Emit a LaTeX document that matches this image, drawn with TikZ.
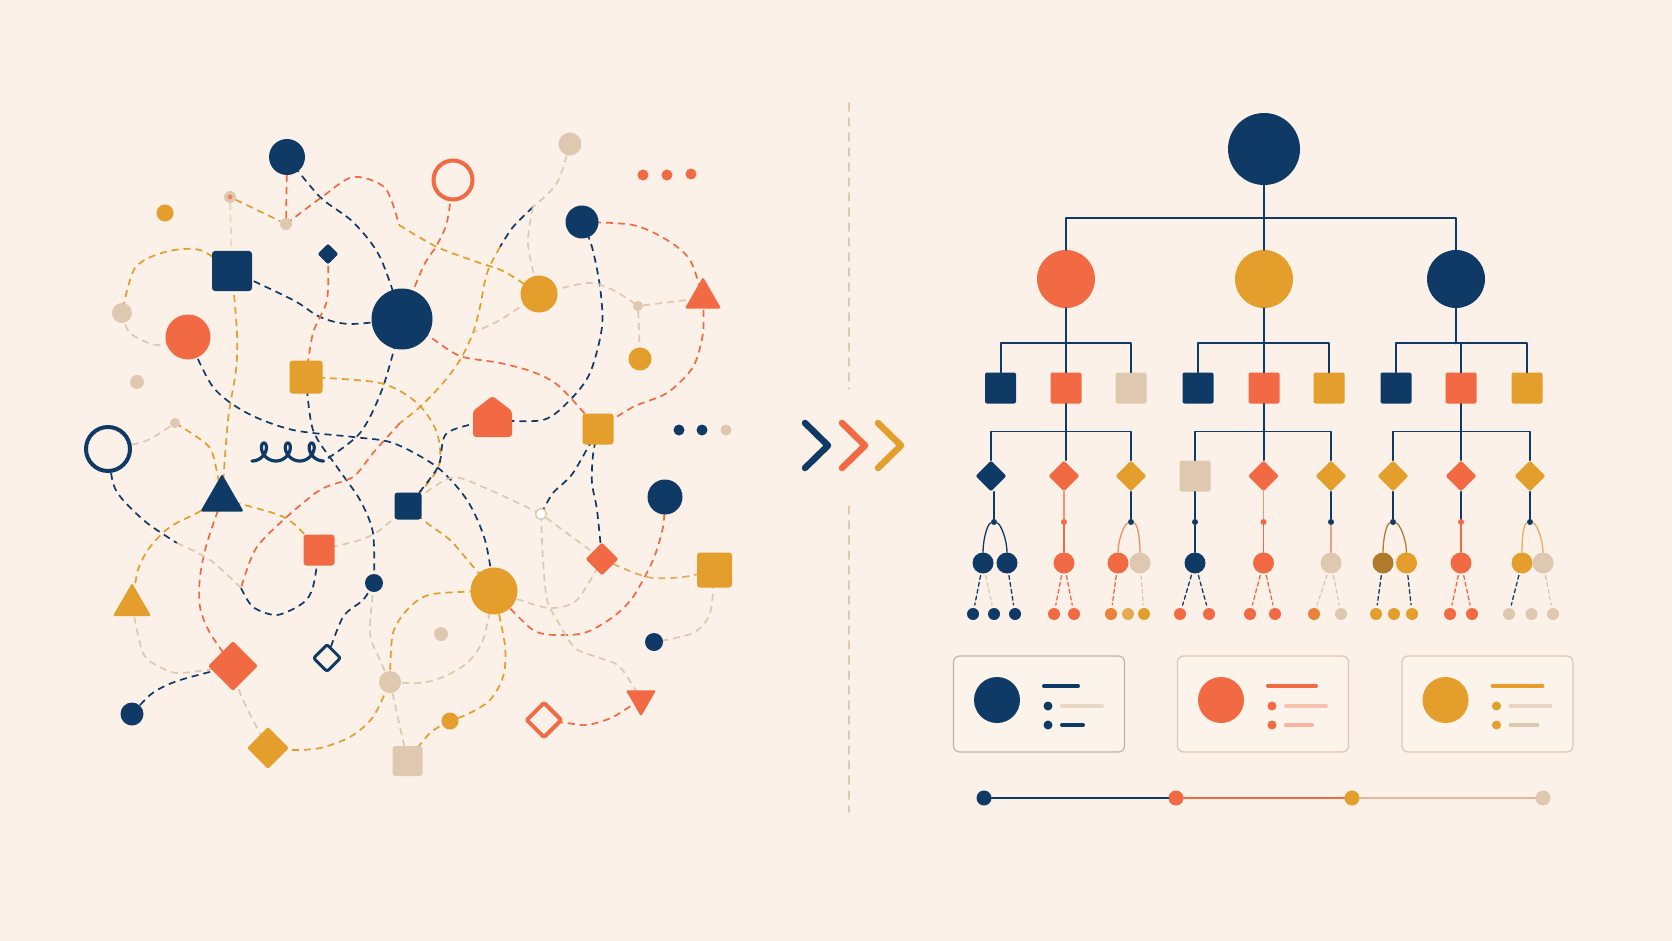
\documentclass[tikz,border=0pt]{standalone}
\usepackage{tikz}
\usetikzlibrary{shapes.geometric}
\definecolor{navy}{HTML}{0F3A65}
\definecolor{coral}{HTML}{F26A43}
\definecolor{amber}{HTML}{E49E2C}
\definecolor{sand}{HTML}{DFC8B0}
\definecolor{paper}{HTML}{FBF1E8}
\definecolor{umber}{HTML}{B07A2C}
\pgfdeclarelayer{links}
\pgfsetlayers{links,main}

\begin{document}
\begin{tikzpicture}[x=1pt,y=-1pt,line cap=round,line join=round,
  ball/.style={circle,inner sep=0pt,minimum size=#1},
  box/.style={rectangle,rounded corners=3pt,inner sep=0pt,minimum size=#1},
  gem/.style={diamond,rounded corners=2pt,inner sep=0pt,minimum size=#1},
  tri/.style={regular polygon,regular polygon sides=3,rounded corners=2pt,inner sep=0pt,minimum size=#1},
  lk/.style={dash pattern=on 7pt off 5pt,line width=1.7pt},
  tlk/.style={dash pattern=on 4pt off 3pt,line width=1.3pt,shorten <=2pt,shorten >=3pt},
  tree/.style={navy,line width=2pt},
  card/.style={rectangle,rounded corners=6pt,line width=1.2pt,minimum width=171,minimum height=96,inner sep=0pt,fill=white!15!paper},
  chev/.style={line width=6.5pt},
  divider/.style={sand,line width=1.5pt,dash pattern=on 8pt off 7pt}]
\begin{pgfonlayer}{links}
\fill[paper] (0,0) rectangle (1672,941);
\end{pgfonlayer}
\useasboundingbox (0,0) rectangle (1672,941);

% left: the tangle
\node[ball=36,fill=navy] (nA) at (287,157) {};
\node[ball=39,draw=coral,line width=4pt,fill=paper] (oRing) at (453,180) {};
\node[ball=12,fill=sand] (bdot1) at (230,197) {};
\node[ball=5,fill=coral!70!sand] (bdot1c) at (bdot1) {};
\node[ball=17,fill=amber] (gdot1) at (165,213) {};
\node[ball=12,fill=sand] (bdot2) at (286,224) {};
\node[box=40,fill=navy] (nSq1) at (232,271) {};
\node[gem=21,fill=navy] (nDia1) at (328,254) {};
\node[ball=61,fill=navy] (nBig) at (402,319) {};
\node[ball=20,fill=sand] (bC1) at (122,313) {};
\node[ball=45,fill=coral] (oC1) at (188,337) {};
\node[ball=14,fill=sand] (bdot3) at (137,382) {};
\node[box=33,fill=amber] (gSq1) at (306,377) {};
\node[ball=10,fill=sand] (blob) at (175,423) {};
\node[ball=23,fill=sand] (bC2) at (570,144) {};
\node[ball=11,fill=coral] (od1) at (643,175) {};
\node[ball=11,fill=coral] (od2) at (667,175) {};
\node[ball=11,fill=coral] (od3) at (691,174) {};
\node[ball=33,fill=navy] (nC2) at (582,222) {};
\node[ball=37,fill=amber] (gC1) at (539,294) {};
\node[tri=42,fill=coral] (oTri) at (703,298) {};
\node[ball=10,fill=sand] (bdot4) at (638,306) {};
\node[ball=23,fill=amber] (gC2) at (640,359) {};
\fill[coral,rounded corners=3pt] (473,437) -- (473,411) -- (492.5,396) -- (512,411) -- (512,437) -- cycle;
\coordinate (house) at (492.5,420);
\node[box=31,fill=amber] (gSq2) at (598,429) {};
\node[ball=11,fill=navy] (nd1) at (679,430) {};
\node[ball=11,fill=navy] (nd2) at (702,430) {};
\node[ball=11,fill=sand] (nd3) at (726,430) {};
\node[ball=44,draw=navy,line width=4pt,fill=paper] (nRing) at (108,449) {};
\draw[navy,line width=3.2pt] plot[domain=pi:7*pi,samples=160,variable=\ang] ({252+3.8*(\ang-pi)-7.5*sin(\ang r)},{452-9*cos(\ang r)});
\coordinate (sqEnd) at (323.6,461);
\node[tri=50,fill=navy] (nTri) at (222,499) {};
\node[box=27,fill=navy] (nSq2) at (408,506) {};
\node[box=31,fill=coral] (oSq) at (319,550) {};
\node[ball=18,fill=navy] (nC3) at (374,583) {};
\node[tri=44,fill=amber] (gTri) at (132,605) {};
\node[gem=50,fill=coral] (oDia) at (233,666) {};
\node[gem=28,draw=navy,line width=3pt,fill=paper] (nDiaH) at (327,658) {};
\node[ball=22,fill=sand] (bC3) at (390,682) {};
\node[ball=14,fill=sand] (bdot5) at (441,634) {};
\node[ball=23,fill=navy] (nC4) at (132,714) {};
\node[gem=42,fill=amber] (gDia) at (268,748) {};
\node[ball=17,fill=amber] (gdot2) at (450,721) {};
\node[box=30,fill=sand] (bSq) at (407.5,761) {};
\node[ball=35,fill=navy] (nC5) at (665,497) {};
\node[ball=11,draw=sand,line width=1.5pt,fill=white] (hollow) at (541,514) {};
\node[gem=33,fill=coral] (oDia2) at (602,559) {};
\node[box=35,fill=amber] (gSq3) at (714.5,570) {};
\node[ball=47,fill=amber] (gBig) at (494,591) {};
\node[ball=18,fill=navy] (nC6) at (654,642) {};
\node[gem=36,draw=coral,line width=4pt,fill=paper] (oDiaH) at (544,720) {};
\node[tri=35,fill=coral,shape border rotate=180] (oTriD) at (641,699) {};
\coordinate (j1) at (399,225);
\coordinate (j2) at (400,423);
\coordinate (j3) at (533,207);
\coordinate (j4) at (500,247);
\coordinate (j5) at (474,332);
\coordinate (j6) at (177,543);
\coordinate (j9) at (241,588);

\begin{pgfonlayer}{links}
\draw[lk,coral] (nA) -- (bdot2);
\draw[lk,navy] plot[smooth] coordinates {(nA) (320,197) (353,222) (380,257) (nBig)};
\draw[lk,coral] plot[smooth] coordinates {(bdot2) (322,197) (353,177) (385,188) (j1)};
\draw[lk,amber] plot[smooth] coordinates {(j1) (437,247) (477,262) (505,272) (gC1)};
\draw[lk,coral] plot[smooth] coordinates {(oRing) (447,222) (437,245) (423,267) (nBig)};
\draw[lk,sand!70!paper] (bdot1) -- (nSq1);
\draw[lk,amber] (bdot1) -- (bdot2);
\draw[lk,amber] plot[smooth] coordinates {(nSq1) (200,250) (165,252) (135,268) (bC1)};
\draw[lk,sand] plot[smooth] coordinates {(bC1) (130,333) (157,345) (oC1)};
\draw[lk,navy] plot[smooth] coordinates {(nSq1) (293,300) (320,317) (350,324) (nBig)};
\draw[lk,coral] plot[smooth] coordinates {(nDia1) (327,300) (313,333) (gSq1)};
\draw[lk,amber] plot[smooth] coordinates {(nSq1) (237,333) (236,370) (228,420) (nTri)};
\draw[lk,navy] plot[smooth] coordinates {(oC1) (213,387) (247,413) (293,430) (353,437) (393,443) (437,467) (467,500) (485,540) (gBig)};
\draw[lk,navy] plot[smooth] coordinates {(nBig) (383,387) (360,433) (sqEnd)};
\draw[lk,amber] plot[smooth] coordinates {(gSq1) (380,383) (417,403) (437,433) (438,468) (nSq2)};
\draw[lk,navy] plot[smooth] coordinates {(gSq1) (313,430) (337,467) (360,500) (373,533) (nC3)};
\draw[lk,coral] plot[smooth] coordinates {(nBig) (430,337) (460,356) (500,363) (533,372) (560,387) (gSq2)};
\draw[lk,navy] plot[smooth] coordinates {(nC2) (592,247) (600,287) (602,327) (590,373) (570,400) (543,420) (house)};
\draw[lk,navy] plot[smooth] coordinates {(house) (447,433) (438,467) (nSq2)};
\draw[lk,coral] plot[smooth] coordinates {(nC2) (633,225) (667,240) (690,260) (oTri)};
\draw[lk,coral] plot[smooth] coordinates {(oTri) (703,333) (693,367) (667,393) (633,407) (gSq2)};
\draw[lk,sand] plot[smooth] coordinates {(bC2) (557,183) (j3)};
\draw[lk,navy] plot[smooth] coordinates {(j3) (513,227) (j4)};
\draw[lk,amber] plot[smooth] coordinates {(j4) (487,273) (480,307) (473,333) (460,360) (443,383) (420,407) (j2)};
\draw[lk,coral] plot[smooth] coordinates {(j2) (373,453) (353,477) (320,490) (280,523) (255,550) (j9)};
\draw[lk,navy] plot[smooth] coordinates {(j9) (253,607) (277,615) (303,603) (313,587) (oSq)};
\draw[lk,sand] plot[smooth] coordinates {(j3) (528,245) (gC1)};
\draw[lk,sand] plot[smooth] coordinates {(gC1) (500,320) (j5)};
\draw[lk,sand] plot[smooth] coordinates {(gC1) (587,283) (613,290) (bdot4)};
\draw[lk,sand] (bdot4) -- (oTri);
\draw[lk,sand] (bdot4) -- (gC2);
\draw[lk,sand] plot[smooth] coordinates {(nRing) (143,442) (160,433) (blob)};
\draw[lk,amber] plot[smooth] coordinates {(blob) (197,437) (212,452) (nTri)};
\draw[lk,amber] plot[smooth] coordinates {(nTri) (273,513) (293,523) (oSq)};
\draw[lk,amber] plot[smooth] coordinates {(nTri) (197,513) (170,527) (150,547) (138,570) (gTri)};
\draw[lk,coral] plot[smooth] coordinates {(nTri) (207,543) (200,577) (200,607) (210,633) (oDia)};
\draw[lk,navy] plot[smooth] coordinates {(nRing) (113,483) (123,500) (147,523) (j6)};
\draw[lk,sand] plot[smooth] coordinates {(j6) (210,560) (j9)};
\draw[lk,sand] plot[smooth] coordinates {(oSq) (360,540) (380,530) (nSq2)};
\draw[lk,amber] plot[smooth] coordinates {(nSq2) (427,523) (450,540) (470,563) (gBig)};
\draw[lk,navy] plot[smooth] coordinates {(nC3) (363,600) (343,617) (nDiaH)};
\draw[lk,sand] plot[smooth] coordinates {(nC3) (370,633) (380,660) (bC3)};
\draw[lk,sand] plot[smooth] coordinates {(gTri) (143,653) (160,667) (180,673) (oDia)};
\draw[lk,navy] plot[smooth] coordinates {(nC4) (150,695) (167,685) (187,678) (oDia)};
\draw[lk,sand] plot[smooth] coordinates {(oDia) (240,693) (253,720) (gDia)};
\draw[lk,amber] plot[smooth] coordinates {(gDia) (293,750) (320,748) (350,737) (373,717) (bC3)};
\draw[lk,amber] plot[smooth] coordinates {(bC3) (393,633) (410,607) (433,594) (gBig)};
\draw[lk,sand] (bC3) -- (bSq);
\draw[lk,sand] plot[smooth] coordinates {(bC3) (420,683) (443,677) (467,663) (483,640) (gBig)};
\draw[lk,amber] plot[smooth] coordinates {(gBig) (505,646) (503,677) (490,700) (470,713) (gdot2)};
\draw[lk,amber] plot[smooth] coordinates {(gdot2) (430,733) (bSq)};
\draw[lk,coral] plot[smooth] coordinates {(gBig) (533,630) (563,635) (587,632) (613,617) (633,597) (653,560) (663,527) (nC5)};
\draw[lk,sand] plot[smooth] coordinates {(hollow) (543,560) (547,600) (557,620) (575,648) (600,658) (620,667) (oTriD)};
\draw[lk,coral] plot[smooth] coordinates {(oDiaH) (567,723) (587,725) (613,717) (oTriD)};
\draw[lk,sand] plot[smooth] coordinates {(gSq3) (710,613) (693,633) (nC6)};
\draw[lk,amber!70!sand] plot[smooth] coordinates {(oDia2) (647,577) (683,577) (gSq3)};
\draw[lk,navy] plot[smooth] coordinates {(gSq2) (593,455) (592,483) (597,510) (oDia2)};
\draw[lk,navy] plot[smooth] coordinates {(gSq2) (573,473) (553,493) (hollow)};
\draw[lk,sand] plot[smooth] coordinates {(hollow) (483,487) (450,478) (nSq2)};
\draw[lk,sand] (hollow) -- (oDia2);
\draw[lk,sand] plot[smooth] coordinates {(gBig) (520,600) (550,608) (577,600) (oDia2)};
\end{pgfonlayer}

% divider and chevrons
\draw[divider] (849,103) -- (849,389);
\draw[divider] (849,506) -- (849,812);
\draw[chev,navy] (805,423) -- (828,445.5) -- (805,468);
\draw[chev,coral] (842,423) -- (865,445.5) -- (842,468);
\draw[chev,amber] (878,423) -- (901,445.5) -- (878,468);

% right: the tree
\node[ball=72,fill=navy] (root) at (1264,149) {};
\node[ball=58,fill=coral] (k1) at (1066,279) {};
\node[ball=58,fill=amber] (k2) at (1264,279) {};
\node[ball=58,fill=navy] (k3) at (1456,279) {};
\draw[tree] (k1.north) -- ++(0,-32) -| (k3.north);
\draw[tree] (root) -- (k2);
\foreach \nm/\xx/\col in {s11/1000.5/navy,s12/1066/coral,s13/1131/sand,s21/1198/navy,s22/1264/coral,s23/1329/amber,s31/1396/navy,s32/1461/coral,s33/1527/amber}
  \node[box=31,fill=\col,rounded corners=2pt] (\nm) at (\xx,388) {};
\foreach \gg in {1,2,3}{
  \draw[tree] (s\gg1.north) -- ++(0,-29) -| (s\gg3.north);
  \draw[tree] (k\gg) -- (k\gg |- 0,343.5);
  \draw[tree] (s\gg2.north) -- ++(0,-29);
}
\foreach \nm/\xx/\shp/\col in {d11/991/diamond/navy,d12/1064/diamond/coral,d13/1131/diamond/amber,d21/1195/rectangle/sand,d22/1263.5/diamond/coral,d23/1331/diamond/amber,d31/1393/diamond/amber,d32/1461/diamond/coral,d33/1530/diamond/amber}
  \node[shape=\shp,fill=\col,inner sep=0pt,minimum size=31,rounded corners=2pt] (\nm) at (\xx,476) {};
\foreach \gg in {1,2,3}{
  \draw[tree,line width=1.6pt] (d\gg1.north) -- ++(0,-29) -| (d\gg3.north);
  \draw[tree,line width=1.2pt] (s\gg2) -- (s\gg2 |- d\gg2.north);
}
\foreach \nm/\xx/\col in {q11/994/navy,q12/1064/coral,q13/1131/navy,q21/1195/navy,q22/1263.5/coral,q23/1331/navy,q31/1393/navy,q32/1461/coral,q33/1530/navy}
  \node[ball=6,fill=\col] (\nm) at (\xx,522) {};
\foreach \dd/\qq/\col in {d11/q11/navy,d12/q12/coral!70!paper,d13/q13/navy,d21/q21/navy,d22/q22/coral!70!paper,d23/q23/navy,d31/q31/navy,d32/q32/navy,d33/q33/navy}
  \draw[line width=1.4pt,\col] (\qq |- \dd.south) -- (\qq);
\foreach \nm/\xx/\col in {c1/983/navy,c2/1007/navy,c3/1064/coral,c4/1118/coral,c5/1140/sand,c6/1195/navy,c7/1263.5/coral,c8/1331/sand,c9/1383/umber,c10/1406.5/amber,c11/1461/coral,c12/1522/amber,c13/1543/sand}
  \node[ball=21,fill=\col] (\nm) at (\xx,563) {};
\foreach \qq/\lft/\rgt/\col in {q11/c1/c2/navy,q13/c4/c5/coral!60!sand,q31/c9/c10/amber!70!navy,q33/c12/c13/amber!60!sand}{
  \draw[line width=1.3pt,\col] (\qq) .. controls +(-7,2) and +(0,-12) .. (\lft.north);
  \draw[line width=1.3pt,\col] (\qq) .. controls +(7,2) and +(0,-12) .. (\rgt.north);
}
\foreach \qq/\nm/\col in {q12/c3/coral,q21/c6/navy,q22/c7/coral,q23/c8/coral!40!sand,q32/c11/coral}
  \draw[line width=1.3pt,\col] (\qq) -- (\nm);
\foreach \nm/\xx/\col in {e1/973/navy,e2/994/navy,e3/1015/navy,e4/1054/coral,e5/1074/coral,e6/1111/coral!55!amber,e7/1128/amber!70!sand,e8/1144/amber,e9/1180/coral,e10/1209/coral,e11/1250/coral,e12/1275/coral,e13/1314/coral!50!amber,e14/1341/sand,e15/1376/amber,e16/1394/amber,e17/1412/amber,e18/1450/coral,e19/1472/coral,e20/1509/sand,e21/1531.5/sand,e22/1553/sand}
  \node[ball=12,fill=\col] (\nm) at (\xx,614) {};
\foreach \lft/\rgt/\col in {c1/e1/navy,c1/e2/sand,c2/e3/navy,c3/e4/coral,c3/e5/coral,c4/e6/coral,c5/e8/sand,c6/e9/navy,c6/e10/navy,c7/e11/coral,c7/e12/coral,c8/e13/sand,c8/e14/sand,c9/e15/navy,c10/e17/navy,c11/e18/coral,c11/e19/coral,c12/e20/navy,c13/e22/sand}
  \draw[tlk,\col] (\lft) -- (\rgt);

% cards
\foreach \dx/\col/\edge/\fa/\fb/\ta/\tb [count=\cc] in {0/navy/navy!15!sand/sand!60!paper/navy/34/21,224/coral/sand/coral!35!paper/coral!45!paper/48/26,448.5/amber/sand/sand!70!paper/sand/50/27}{
  \node[card,draw=\edge] (card\cc) at (1039+\dx,704) {};
  \node[ball=46,fill=\col] (m\cc) at (997+\dx,700) {};
  \node[ball=9,fill=\col] (u\cc) at (1048+\dx,706) {};
  \node[ball=9,fill=\col] (v\cc) at (1048+\dx,725) {};
  \draw[line width=4pt,\col] (1044+\dx,686) -- ++(\ta,0);
  \draw[line width=4pt,\fa] (u\cc) ++(14,0) -- ++(40,0);
  \draw[line width=4pt,\fb] (v\cc) ++(14,0) -- ++(\tb,0);
}

% timeline
\node[ball=15,fill=navy] (t1) at (984,798) {};
\node[ball=15,fill=coral] (t2) at (1176,798) {};
\node[ball=15,fill=amber] (t3) at (1352,798) {};
\node[ball=15,fill=sand] (t4) at (1543,798) {};
\draw[line width=2.5pt,navy] (t1) -- (t2);
\draw[line width=2.5pt,coral] (t2) -- (t3);
\draw[line width=2.5pt,sand!80!coral] (t3) -- (t4);
\end{tikzpicture}
\end{document}
